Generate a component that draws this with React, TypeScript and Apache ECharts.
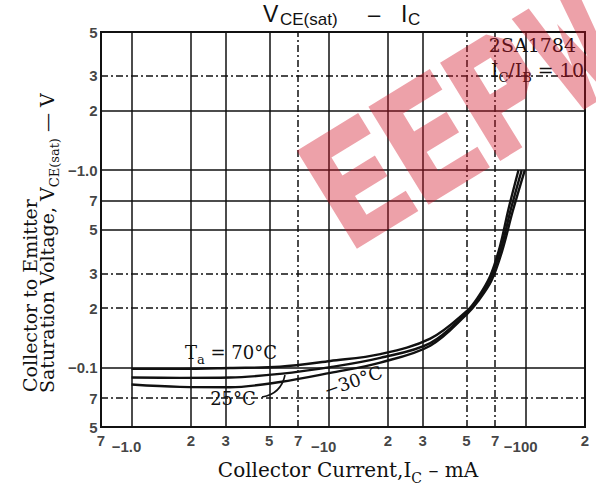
import React, { useEffect, useRef } from "react";
import * as echarts from "echarts";

// Grid / ticks (log axes)
const xGridValues = [1, 2, 3, 5, 7, 10, 20, 30, 50, 70, 100];
const xDashedValues = [7, 50, 70];
const yGridValues = [3, 2, 1, 0.7, 0.5, 0.3, 0.2, 0.1, 0.07];
const yDashedValues = [3, 0.3, 0.2, 0.07];

const xTickValues = [0.7, 1, 2, 3, 5, 7, 10, 20, 30, 50, 70, 100, 200];
const xTickLabels = ["7", "−1.0", "2", "3", "5", "7", "−10", "2", "3", "5", "7", "−100", "2"];
const yTickValues = [5, 3, 2, 1, 0.7, 0.5, 0.3, 0.2, 0.1, 0.07, 0.05];
const yTickLabels = ["5", "3", "2", "−1.0", "7", "5", "3", "2", "−0.1", "7", "5"];

// Curves: collector current (mA) vs VCE(sat) (V)
const currentTa70 = [1.0, 1.76, 3.16, 5.67, 10.2, 18.3, 32.8, 50.5, 57, 66, 74, 82, 92];
const vceTa70 = [0.0985, 0.0985, 0.0995, 0.101, 0.108, 0.117, 0.14, 0.194, 0.225, 0.29, 0.41, 0.64, 1.0];
const currentTa25 = [1.0, 1.76, 3.16, 5.67, 10.2, 18.3, 32.8, 50.5, 57, 66, 75, 84, 95.5];
const vceTa25 = [0.089, 0.0887, 0.089, 0.0929, 0.1005, 0.112, 0.133, 0.19, 0.22, 0.28, 0.4, 0.63, 1.0];
const currentTaM30 = [1.0, 1.76, 3.16, 5.67, 10.2, 18.3, 32.8, 50.5, 57, 67, 76, 86, 99];
const vceTaM30 = [0.082, 0.0798, 0.0795, 0.0845, 0.094, 0.106, 0.129, 0.187, 0.215, 0.275, 0.39, 0.62, 1.0];

const X_MIN = 0.7;
const X_MAX = 200;
const Y_MIN = 0.05;
const Y_MAX = 5;

const zip = (xs: number[], ys: number[]) => xs.map((x, i) => [x, ys[i]]);

// Watermark outline (letter shapes in a local box, centred at the origin)
const poly = (pts: number[][], dx: number, dy: number) =>
  "M" + pts.map((p) => `${p[0] + dx} ${p[1] + dy}`).join(" L") + " Z ";
const LETTER_E = [[0, 0], [72, 0], [72, 24], [26, 24], [26, 45], [64, 45], [64, 69], [26, 69], [26, 91], [72, 91], [72, 115], [0, 115]];
const LETTER_P = [[0, 0], [54, 0], [72, 18], [72, 57], [54, 75], [26, 75], [26, 115], [0, 115]];
const LETTER_P_HOLE = [[26, 22], [26, 53], [46, 53], [46, 22]];
const LETTER_W = [[0, 0], [20, 0], [27, 72], [36, 28], [45, 72], [52, 0], [72, 0], [58, 115], [42, 115], [36, 80], [30, 115], [14, 115]];
const markPath =
  poly(LETTER_E, -162, -57.5) +
  poly(LETTER_E, -78, -57.5) +
  poly(LETTER_P, 6, -57.5) +
  poly(LETTER_P_HOLE, 6, -57.5) +
  poly(LETTER_W, 90, -57.5);

let registered = false;

export default function App() {
  const ref = useRef<HTMLDivElement>(null);

  useEffect(() => {
    if (!registered) {
      echarts.graphic.registerShape("eepwMark", echarts.graphic.extendPath(markPath, {}) as any);
      registered = true;
    }
    const chart = echarts.init(ref.current!, null, { renderer: "svg" });
    const sans = '"Liberation Sans", Arial, sans-serif';
    const serif = '"DejaVu Serif", serif';
    const ink = "#111";

    const gridStyle = (dashed: boolean) => ({
      color: ink,
      width: 1.5,
      type: dashed ? [7, 3, 2, 3] : "solid",
    });

    const markData: any[] = [
      ...xGridValues.map((v) => ({ xAxis: v, lineStyle: gridStyle(xDashedValues.includes(v)) })),
      ...yGridValues.map((v) => ({ yAxis: v, lineStyle: gridStyle(yDashedValues.includes(v)) })),
    ];

    const tickFont = { fontFamily: sans, fontWeight: "bold" as const, fontSize: 15, color: ink };
    const curveStyle = { color: ink, width: 2.4 };

    const curve = (name: string, xs: number[], ys: number[]) => ({
      type: "line",
      name,
      data: zip(xs, ys),
      symbol: "none",
      smooth: 0.35,
      lineStyle: curveStyle,
      z: 5,
      silent: true,
    });

    const subRich = (size: number, subSize: number, lh: number) => ({
      n: { fontFamily: serif, fontSize: size, lineHeight: lh, fill: ink },
      s: { fontFamily: serif, fontSize: subSize, lineHeight: subSize + 1, verticalAlign: "bottom", fill: ink },
    });

    const graphic: any[] = [
      // Title
      { type: "text", x: 263, y: 14, z: 3, style: { text: "V", fontFamily: sans, fontSize: 23, fill: ink, align: "left", verticalAlign: "middle" } },
      { type: "text", x: 280, y: 19, z: 3, style: { text: "CE(sat)", fontFamily: sans, fontSize: 17, fill: ink, align: "left", verticalAlign: "middle" } },
      { type: "text", x: 374, y: 14, z: 3, style: { text: "–", fontFamily: sans, fontSize: 22, fill: ink, align: "center", verticalAlign: "middle" } },
      { type: "text", x: 401, y: 14, z: 3, style: { text: "I", fontFamily: sans, fontSize: 23, fill: ink, align: "left", verticalAlign: "middle" } },
      { type: "text", x: 408, y: 19, z: 3, style: { text: "C", fontFamily: sans, fontSize: 17, fill: ink, align: "left", verticalAlign: "middle" } },
      // Device annotation box
      { type: "rect", z: 3, shape: { x: 487, y: 34, width: 97, height: 60 }, style: { fill: "#fff" } },
      { type: "text", x: 576, y: 44.5, z: 3, style: { text: "2SA1784", fontFamily: serif, fontSize: 19, fill: ink, align: "right", verticalAlign: "middle" } },
      {
        type: "text", x: 584, y: 70, z: 3,
        style: { text: "{n|I}{s|C}{n|/I}{s|B}{n| = 10}", rich: subRich(19, 13, 28), align: "right", verticalAlign: "middle" },
      },
      // Temperature labels
      {
        type: "text", x: 183, y: 352, z: 3,
        style: { text: "{n|T}{s|a}{n| = 70°C}", rich: subRich(18, 13, 28), align: "left", verticalAlign: "middle", backgroundColor: "#fff", padding: [0, 2] },
      },
      { type: "text", x: 233, y: 398, z: 3, style: { text: "25°C", fontFamily: serif, fontSize: 18, fill: ink, align: "center", verticalAlign: "middle", backgroundColor: "#fff", padding: [1, 3] } },
      { type: "bezierCurve", z: 6, shape: { x1: 262, y1: 397, x2: 285, y2: 375, cpx1: 281, cpy1: 394 }, style: { stroke: ink, lineWidth: 1.6, fill: "none" } },
      { type: "text", x: 353, y: 381, z: 3, rotation: 0.33, style: { text: "−30°C", fontFamily: serif, fontSize: 18, fill: ink, align: "center", verticalAlign: "middle", backgroundColor: "#fff", padding: [0, 3] } },
      // Axis titles
      {
        type: "text", x: 348, y: 470, z: 3,
        style: { text: "{n|Collector Current,I}{s|C}{n| – mA}", rich: subRich(20, 14, 30), align: "center", verticalAlign: "middle" },
      },
      {
        type: "text", x: 29.5, y: 392, z: 3, rotation: Math.PI / 2,
        style: { text: "Collector to Emitter", fontFamily: serif, fontSize: 19, fill: ink, align: "left", verticalAlign: "middle" },
      },
      {
        type: "text", x: 46.5, y: 393, z: 3, rotation: Math.PI / 2,
        style: { text: "{n|Saturation Voltage, V}{s|CE(sat)}{n| — V}", rich: subRich(19, 13, 28), align: "left", verticalAlign: "middle" },
      },
      // Watermark
      { type: "eepwMark", x: 465, y: 115, rotation: 0.55, z: 50, silent: true, style: { fill: "rgba(210,20,40,0.4)" } },
    ];

    chart.setOption({
      animation: false,
      backgroundColor: "#fff",
      grid: { left: 101, right: 11, top: 32, bottom: 68, show: true, borderColor: ink, borderWidth: 2 },
      xAxis: {
        type: "log", logBase: 10, min: X_MIN, max: X_MAX,
        axisLine: { show: false }, axisTick: { show: false }, axisLabel: { show: false }, splitLine: { show: false },
      },
      yAxis: {
        type: "log", logBase: 10, min: Y_MIN, max: Y_MAX,
        axisLine: { show: false }, axisTick: { show: false }, axisLabel: { show: false }, splitLine: { show: false },
      },
      graphic,
      series: [
        {
          type: "scatter",
          z: 1,
          silent: true,
          clip: false,
          symbolSize: 1,
          itemStyle: { color: "rgba(0,0,0,0)" },
          data: xTickValues.map((v, i) => ({
            value: [v, Y_MIN],
            label: xTickLabels[i].startsWith("−") ? { distance: 11, offset: [-5, 0] } : {},
          })),
          label: { show: true, position: "bottom", distance: 5, formatter: (p: any) => xTickLabels[p.dataIndex], ...tickFont },
          markLine: { silent: true, symbol: ["none", "none"], label: { show: false }, data: markData },
        },
        {
          type: "scatter",
          z: 1,
          silent: true,
          clip: false,
          symbolSize: 1,
          itemStyle: { color: "rgba(0,0,0,0)" },
          data: yTickValues.map((v) => [X_MIN, v]),
          label: { show: true, position: "left", distance: 3, formatter: (p: any) => yTickLabels[p.dataIndex], ...tickFont },
        },
        curve("Ta=70°C", currentTa70, vceTa70),
        curve("Ta=25°C", currentTa25, vceTa25),
        curve("Ta=-30°C", currentTaM30, vceTaM30),
      ],
    });

    return () => chart.dispose();
  }, []);

  return <div ref={ref} style={{ position: "absolute", left: 0, top: 0, width: 596, height: 495 }} />;
}
